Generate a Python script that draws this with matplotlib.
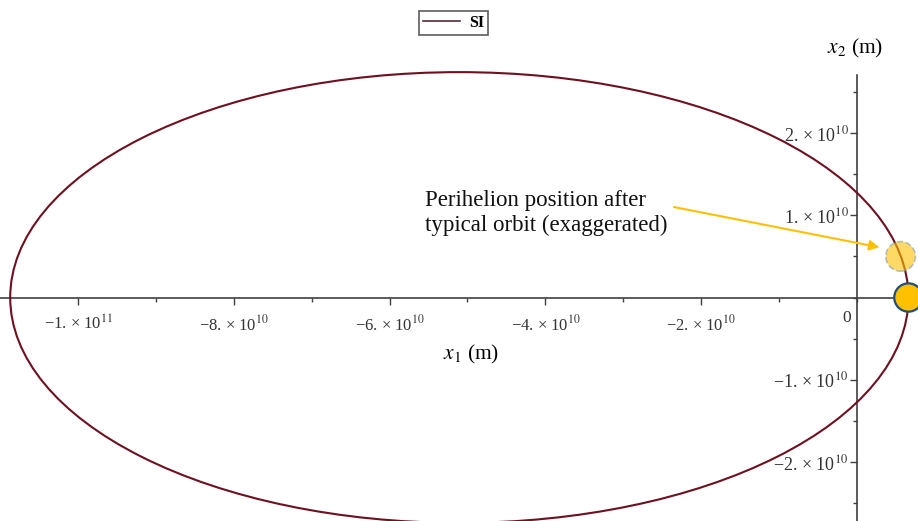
import matplotlib
matplotlib.use("Agg")
import numpy as np
import matplotlib.pyplot as plt
from matplotlib.patches import Ellipse
from matplotlib.lines import Line2D
from matplotlib.ticker import FixedLocator

plt.rcParams['font.family'] = ['Liberation Serif', 'DejaVu Serif']
plt.rcParams['mathtext.fontset'] = 'stix'

# orbit (metres), focus at the origin
perihelion = 6.6e9
aphelion   = 1.087e11
semi_minor = 2.74e10

# shifted perihelion marker (exaggerated)
shifted_peri = (5.6e9, 5.0e9)

x_ticks  = [-1e11, -8e10, -6e10, -4e10, -2e10]
x_labels = ["\u22121. \u00d7 10$^{11}$", "\u22128. \u00d7 10$^{10}$", "\u22126. \u00d7 10$^{10}$",
            "\u22124. \u00d7 10$^{10}$", "\u22122. \u00d7 10$^{10}$"]
y_ticks  = [-2e10, -1e10, 1e10, 2e10]
y_labels = ["\u22122. \u00d7 10$^{10}$", "\u22121. \u00d7 10$^{10}$",
            "1. \u00d7 10$^{10}$", "2. \u00d7 10$^{10}$"]

orbit_color = "#6e1020"
axis_color  = "#404040"
sun_color   = "#ffc000"

fig = plt.figure(figsize=(9.18, 5.21), dpi=100)
ax = fig.add_axes([0, 0, 1, 1])
ax.set_xlim(-1.1001e11, 7.83e9)
ax.set_ylim(-2.717e10, 3.617e10)

# axes through origin
for s in ["top", "right"]:
    ax.spines[s].set_visible(False)
ax.spines["left"].set_position(("data", 0))
ax.spines["bottom"].set_position(("data", 0))
ax.spines["left"].set_bounds(-2.717e10, 2.705e10)
for s in ["left", "bottom"]:
    ax.spines[s].set_color(axis_color)
    ax.spines[s].set_linewidth(1.2)

ax.set_xticks(x_ticks)
ax.set_xticklabels(x_labels)
ax.set_yticks(y_ticks)
ax.set_yticklabels(y_labels)
ax.xaxis.set_minor_locator(FixedLocator(np.arange(-1e11, 0.5e10, 1e10)))
ax.yaxis.set_minor_locator(FixedLocator(np.arange(-2.5e10, 2.6e10, 5e9)))
ax.tick_params(axis="x", which="major", direction="out", length=5, width=1,
               color=axis_color, labelcolor="#333333", labelsize=12, pad=7)
ax.tick_params(axis="x", which="minor", direction="out", length=3, width=1, color=axis_color)
ax.tick_params(axis="y", which="major", direction="out", length=5, width=1,
               color=axis_color, labelcolor="#333333", labelsize=13, pad=1)
ax.tick_params(axis="y", which="minor", direction="out", length=3, width=1, color=axis_color)
ax.text(-8e8, -1.5e9, "0", ha="right", va="top", fontsize=12.5, color="#333333")

# orbit
center_x = (perihelion - aphelion) / 2
orbit = Ellipse((center_x, 0), perihelion + aphelion, 2 * semi_minor,
                fill=False, edgecolor=orbit_color, linewidth=1.5, clip_on=False, zorder=3)
ax.add_patch(orbit)

# perihelion markers (metres per pixel differ slightly between x and y)
aspect = 1.2837 / 1.2158
r_faded = 1.8e9
r_sun = 1.72e9
ax.add_patch(Ellipse(shifted_peri, 2 * r_faded * aspect, 2 * r_faded,
                     facecolor=sun_color, alpha=0.6, edgecolor="#7f9fbf",
                     linestyle="--", linewidth=1.2, zorder=4))
ax.add_patch(Ellipse((perihelion, 0), 2 * r_sun * aspect, 2 * r_sun,
                     facecolor=sun_color, edgecolor="#1f4e79", linewidth=1.6,
                     zorder=5, clip_on=False))

# annotation
ax.text(-5.55e10, 1.03e10, "Perihelion position after\ntypical orbit (exaggerated)",
        ha="left", va="center", fontsize=16.5, color="#111111", linespacing=1.2)
ax.annotate("", xy=(2.9e9, 6.1e9), xytext=(-2.35e10, 1.1e10),
            arrowprops=dict(arrowstyle="-|>", color=sun_color, lw=1.5,
                            shrinkA=0, shrinkB=0, mutation_scale=15))

# axis labels
ax.text(-4.95e10, -6.9e9, r"$x_1$ (m)", ha="center", va="center", fontsize=15.5)
ax.text(-2e8, 3.03e10, r"$x_2$ (m)", ha="center", va="center", fontsize=15.5)

# legend
handle = Line2D([], [], color="#5a2a35", linewidth=1.2)
leg = ax.legend([handle], ["SI"], loc="upper center", bbox_to_anchor=(0.494, 0.995),
                frameon=True, fancybox=False, handlelength=2.3, borderpad=0.25,
                handletextpad=0.6, prop={"weight": "bold", "size": 11.5})
leg.get_frame().set_edgecolor("#333333")
leg.get_frame().set_linewidth(1.2)

fig.savefig("out.png", dpi=100)
